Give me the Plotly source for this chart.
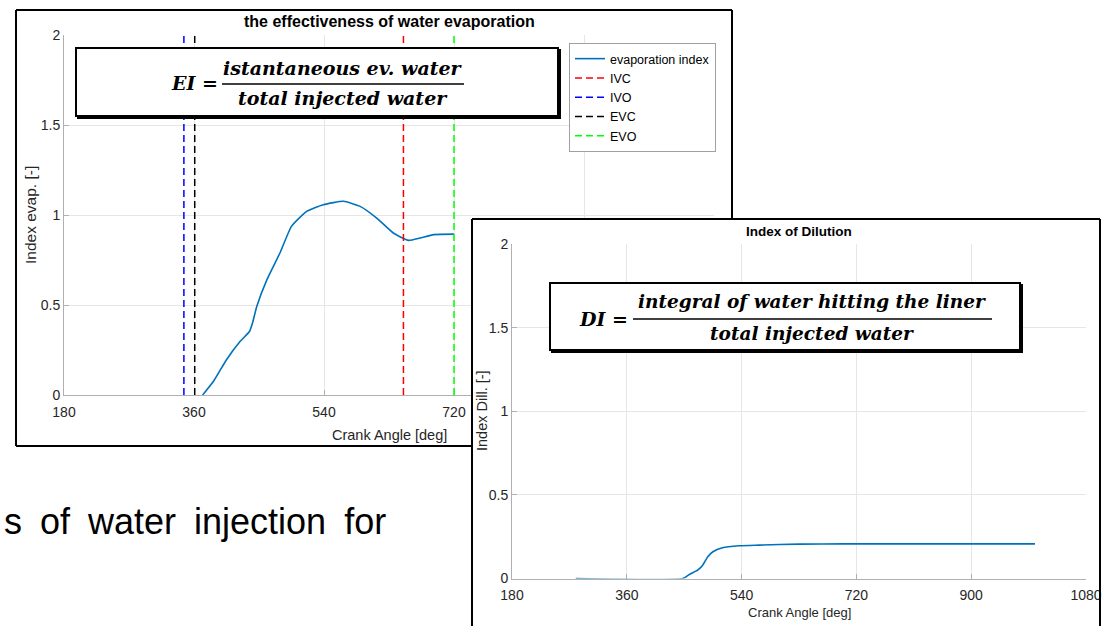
import plotly.graph_objects as go

W, H = 1107, 626

# ---------------- data ----------------
evap_angle = [372, 387, 405, 424, 437, 441, 447, 461, 479, 495, 516, 539, 567, 590, 613, 636, 657, 673, 692, 720]
evap_index = [0.0, 0.076, 0.196, 0.298, 0.354, 0.40, 0.493, 0.641, 0.789, 0.937, 1.020, 1.057, 1.076, 1.048, 0.983, 0.900, 0.859, 0.872, 0.891, 0.894]

valve_names = ["IVC", "IVO", "EVC", "EVO"]
valve_angles = [650, 346, 361, 720]
valve_colors = ["#ff0000", "#0000ff", "#000000", "#00ff00"]

dil_angle = [280, 448, 458, 471, 479, 487, 495, 510, 536, 568, 630, 700, 800, 900, 1000]
dil_index = [0.0, 0.0, 0.024, 0.05, 0.08, 0.13, 0.16, 0.184, 0.196, 0.200, 0.206, 0.207, 0.207, 0.207, 0.207]

x_ticks = [180, 360, 540, 720, 900, 1080]
y_ticks = [0, 0.5, 1, 1.5, 2]
y_ticktext = ["0", "0.5", "1", "1.5", "2"]


def px(x):
    return x / W


def py(y):
    return 1 - y / H


fig = go.Figure()

# left chart
fig.add_trace(go.Scatter(x=evap_angle, y=evap_index, mode="lines", name="evaporation index",
                         line=dict(color="#0072BD", width=1.6, shape="spline", smoothing=0.5),
                         xaxis="x", yaxis="y"))
for n, a, c in zip(valve_names, valve_angles, valve_colors):
    fig.add_trace(go.Scatter(x=[a, a], y=[0, 2], mode="lines", name=n,
                             line=dict(color=c, width=1.5, dash="7px,4px"),
                             xaxis="x", yaxis="y"))

# cover subplot (white panel of the second figure)
fig.add_trace(go.Scatter(x=[], y=[], mode="lines", showlegend=False, xaxis="x2", yaxis="y2"))

# right chart
fig.add_trace(go.Scatter(x=dil_angle, y=dil_index, mode="lines", showlegend=False,
                         line=dict(color="#0072BD", width=1.6, shape="spline", smoothing=0.5),
                         xaxis="x3", yaxis="y3"))

axis_common = dict(showgrid=True, gridcolor="#e6e6e6", gridwidth=1, showline=True,
                   linecolor="#b0b0b0", linewidth=1, ticks="inside", ticklen=5,
                   tickcolor="#b0b0b0", zeroline=False, automargin=False, layer="below traces",
                   tickfont=dict(family="Arial, Liberation Sans", size=14, color="#262626"))

fig.update_layout(
    width=W, height=H,
    margin=dict(l=0, r=0, t=0, b=0, pad=0, autoexpand=False),
    paper_bgcolor="white", plot_bgcolor="white",
    xaxis=dict(domain=[px(64), px(714)], range=[180, 1080], tickvals=x_ticks, anchor="y",
               ticklabelstandoff=4, **axis_common),
    yaxis=dict(domain=[py(395), py(35)], range=[0, 2], tickvals=y_ticks, ticktext=y_ticktext,
               anchor="x", **axis_common),
    xaxis2=dict(domain=[px(472), px(1100)], range=[0, 1], visible=False, anchor="y2", automargin=False),
    yaxis2=dict(domain=[0, py(219)], range=[0, 1], visible=False, anchor="x2", automargin=False),
    xaxis3=dict(domain=[px(512), px(1086)], range=[180, 1080], tickvals=x_ticks, anchor="y3",
                ticklabelstandoff=4, **axis_common),
    yaxis3=dict(domain=[py(578.5), py(244.3)], range=[0, 2], tickvals=y_ticks, ticktext=y_ticktext,
                anchor="x3", **axis_common),
    legend=dict(x=px(569), y=py(43), xanchor="left", yanchor="top",
                bgcolor="white", bordercolor="#a0a0a0", borderwidth=1,
                font=dict(family="Arial, Liberation Sans", size=12.5, color="#000000"),
                tracegroupgap=0, itemwidth=30),
    showlegend=True,
)

shapes = []
bl = dict(color="black", width=2)
# left panel border (only visible parts)
shapes += [
    dict(type="line", xref="paper", yref="paper", x0=px(16), x1=px(732), y0=py(10), y1=py(10), line=bl, layer="above"),
    dict(type="line", xref="paper", yref="paper", x0=px(16), x1=px(16), y0=py(10), y1=py(446), line=bl, layer="above"),
    dict(type="line", xref="paper", yref="paper", x0=px(16), x1=px(472), y0=py(446), y1=py(446), line=bl, layer="above"),
    dict(type="line", xref="paper", yref="paper", x0=px(732), x1=px(732), y0=py(10), y1=py(219), line=bl, layer="above"),
]
# right panel border
shapes += [
    dict(type="line", xref="paper", yref="paper", x0=px(472), x1=px(1100), y0=py(219), y1=py(219), line=bl, layer="above"),
    dict(type="line", xref="paper", yref="paper", x0=px(472), x1=px(472), y0=py(219), y1=py(626), line=bl, layer="above"),
    dict(type="line", xref="paper", yref="paper", x0=px(1100), x1=px(1100), y0=py(219), y1=py(626), line=bl, layer="above"),
]


def formula_box(x0, y0, x1, y1):
    return [
        dict(type="rect", xref="paper", yref="paper", x0=px(x0 + 2), x1=px(x1 + 2), y0=py(y0 + 2), y1=py(y1 + 2),
             line=dict(color="black", width=2), fillcolor="black", layer="above"),
        dict(type="rect", xref="paper", yref="paper", x0=px(x0), x1=px(x1), y0=py(y0), y1=py(y1),
             line=dict(color="black", width=2), fillcolor="white", layer="above"),
    ]


shapes += formula_box(76, 48, 558, 116)
shapes += formula_box(550, 283, 1020, 350)
# fraction bars
shapes += [
    dict(type="line", xref="paper", yref="paper", x0=px(222), x1=px(464), y0=py(84), y1=py(84),
         line=dict(color="black", width=1.5), layer="above"),
    dict(type="line", xref="paper", yref="paper", x0=px(633), x1=px(992), y0=py(319), y1=py(319),
         line=dict(color="black", width=1.5), layer="above"),
]
fig.update_layout(shapes=shapes)

sans = "Arial, Liberation Sans"
serif = "DejaVu Serif"
ann = []


def text(t, x, y, size, family=sans, color="#000000", xanchor="center", angle=0, bold=False, italic=False):
    ann.append(dict(text=t, x=px(x), y=py(y), xref="paper", yref="paper", showarrow=False,
                    xanchor=xanchor, yanchor="middle", textangle=angle,
                    font=dict(family=family, size=size, color=color,
                              weight="bold" if bold else "normal",
                              style="italic" if italic else "normal")))


text("the effectiveness of water evaporation", 389, 21, 16, bold=True)
text("Crank Angle [deg]", 389, 435, 14.5, color="#262626")
text("Index evap. [-]", 30, 215, 15.5, color="#262626", angle=-90)
text("Index of Dilution", 799, 232, 13.5, bold=True)
text("Crank Angle [deg]", 799, 612, 13, color="#262626")
text("Index Dill. [-]", 482, 411, 14.5, color="#262626", angle=-90)

text("EI =", 194, 83, 19, family=serif, bold=True, italic=True)
text("istantaneous ev. water", 343, 68, 19, family=serif, bold=True, italic=True)
text("total injected water", 343, 98, 19, family=serif, bold=True, italic=True)
text("DI =", 603, 319, 19, family=serif, bold=True, italic=True)
text("integral of water hitting the liner", 812, 302, 18.5, family=serif, bold=True, italic=True)
text("total injected water", 812, 333, 18.5, family=serif, bold=True, italic=True)

text("s\u2002of\u2002water\u2002injection\u2002for", 388, 521, 36, xanchor="right")

fig.update_layout(annotations=ann)

fig.write_html("out.html")
